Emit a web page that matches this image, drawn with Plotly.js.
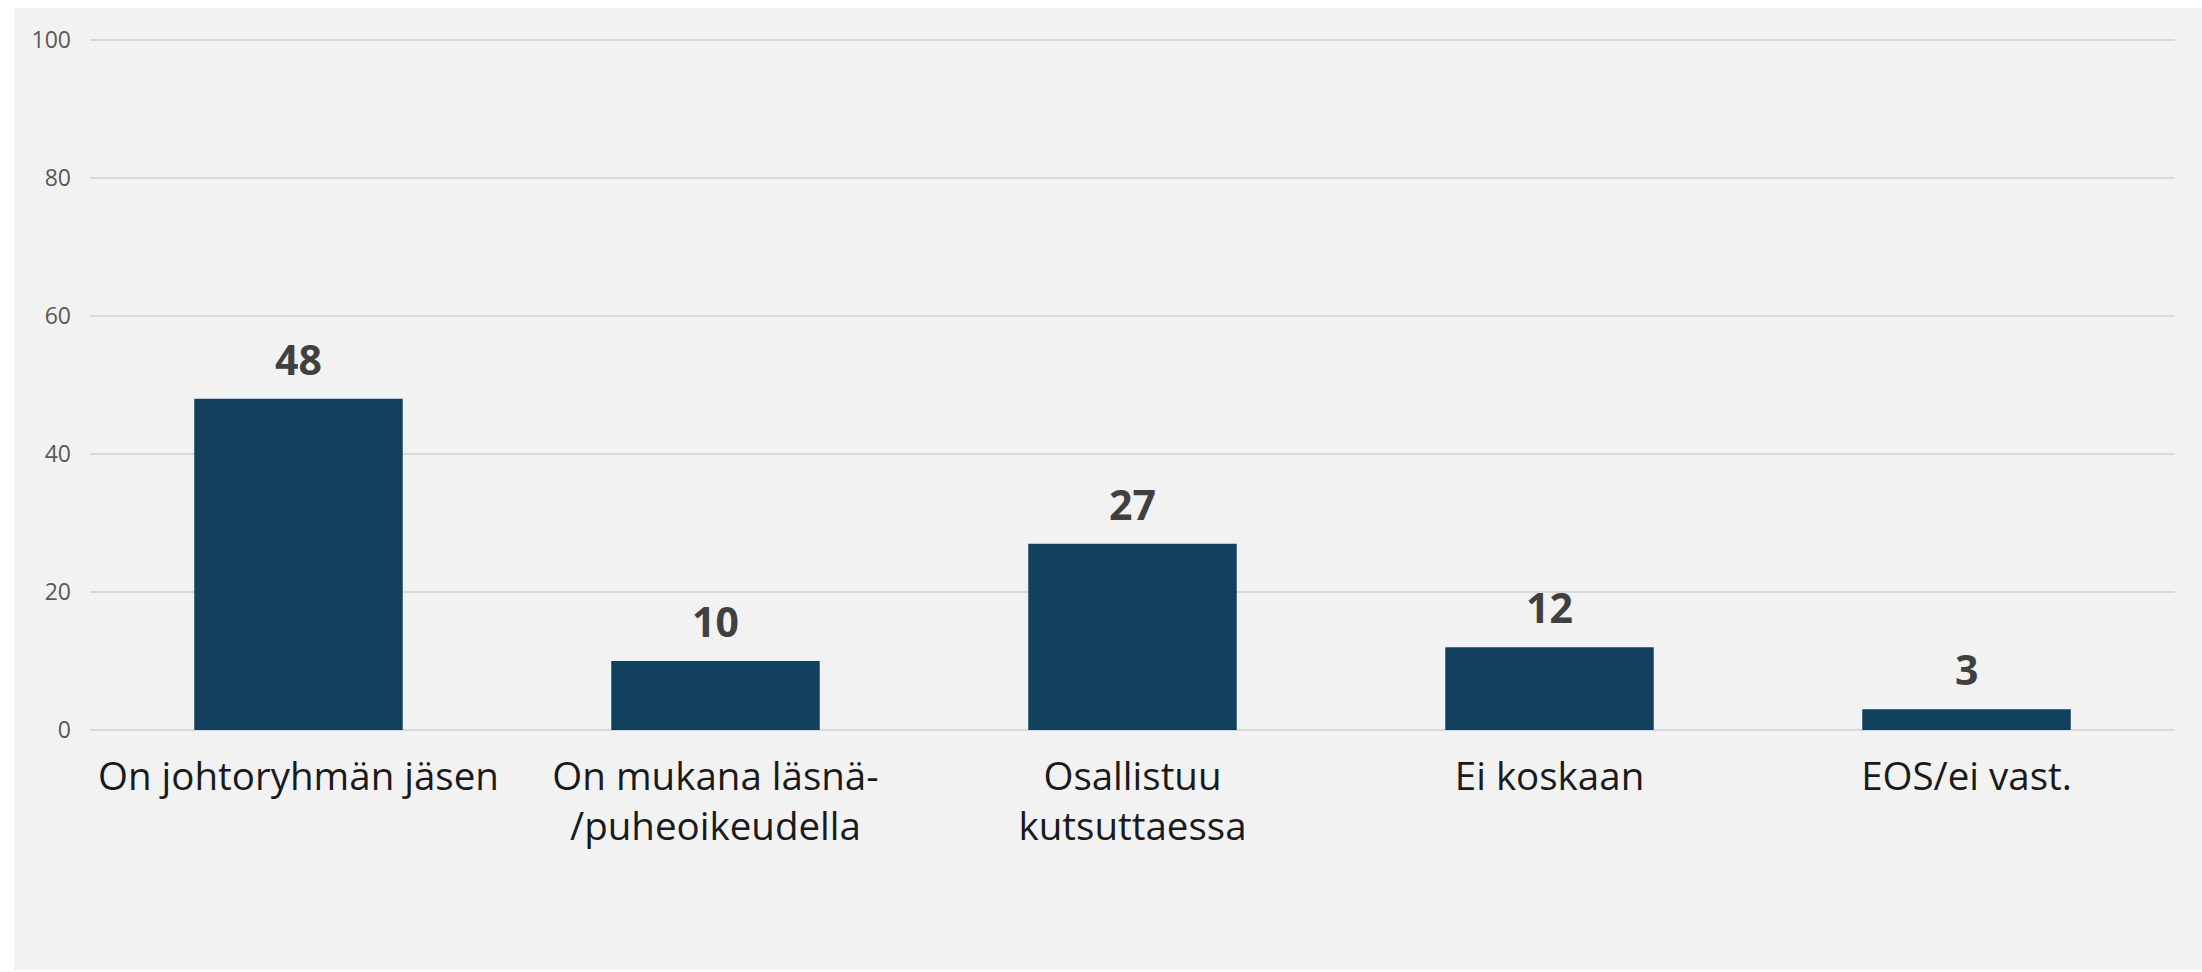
<!DOCTYPE html>
<html>
<head>
<meta charset="utf-8">
<script src="https://cdn.plot.ly/plotly-3.0.1.min.js"></script>
<style>
html,body{margin:0;padding:0;background:#ffffff;}
#chart{position:absolute;left:14px;top:8px;width:2188px;height:962px;}
</style>
</head>
<body>
<div id="chart"></div>
<script>
const categories = ["On johtoryhmän jäsen", "On mukana läsnä-<br>/puheoikeudella", "Osallistuu<br>kutsuttaessa", "Ei koskaan", "EOS/ei vast."];
const values = [48, 10, 27, 12, 3];
const yTicks = [0, 20, 40, 60, 80, 100];

const trace = {
  type: 'bar',
  x: categories,
  y: values,
  marker: {color: '#12405f'},
  hoverinfo: 'skip'
};

const annotations = categories.map((c, i) => ({
  x: c,
  y: values[i],
  xref: 'x',
  yref: 'y',
  text: String(values[i]),
  showarrow: false,
  yanchor: 'bottom',
  yshift: 10,
  font: {family: 'Open Sans, sans-serif', size: 41, color: '#404040', weight: 'bold'}
}));

const layout = {
  width: 2188,
  height: 962,
  margin: {l: 76, r: 27, t: 30, b: 238},
  paper_bgcolor: '#f2f2f2',
  plot_bgcolor: '#f2f2f2',
  bargap: 0.5,
  showlegend: false,
  xaxis: {
    type: 'category',
    showgrid: false,
    showline: false,
    zeroline: false,
    ticks: '',
    tickfont: {family: 'Open Sans, sans-serif', size: 38.5, color: '#1a1a1a'},
    ticklabelstandoff: 18
  },
  yaxis: {
    range: [-0.3, 100.3],
    tickvals: yTicks,
    ticktext: yTicks.map(String),
    showgrid: true,
    gridcolor: '#d9d9d9',
    gridwidth: 2,
    zeroline: false,
    showline: false,
    ticks: '',
    ticklabelstandoff: 18,
    tickfont: {family: 'Open Sans, sans-serif', size: 23, color: '#595959'}
  },
  annotations: annotations
};

Plotly.newPlot('chart', [trace], layout, {displayModeBar: false, staticPlot: true});
</script>
</body>
</html>
